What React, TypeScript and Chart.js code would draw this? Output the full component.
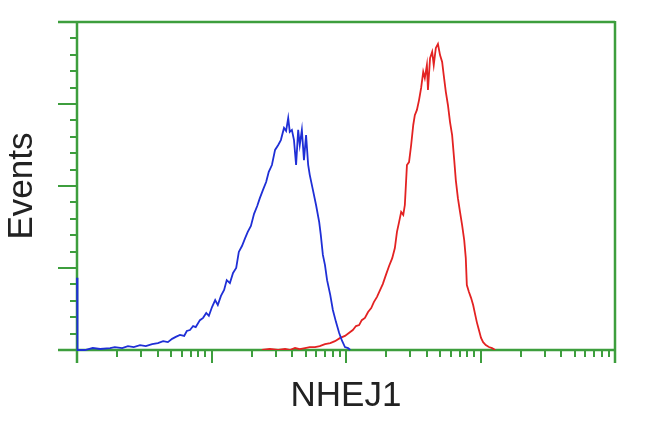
import React, { useEffect, useRef } from "react";
import { Chart, registerables } from "chart.js";

Chart.register(...registerables);

// Channel (log-amplified, 256 channels per decade) and event counts (% of max scale)
const blueChannels = [0, 1, 15, 30, 44, 63, 72, 86, 97, 108, 120, 131, 143, 154, 164, 173, 181, 188, 196, 204, 209, 215, 221, 226, 234, 240, 246, 251, 257, 263, 268, 274, 280, 285, 291, 297, 303, 308, 314, 320, 325, 331, 337, 343, 348, 354, 360, 365, 371, 377, 383, 388, 394, 398, 402, 405, 409, 413, 417, 421, 424, 428, 432, 436, 440, 443, 449, 455, 461, 464, 468, 472, 476, 482, 487, 493, 499, 504, 510, 516, 520];
const blueCounts = [22, 0, 0, 0.6, 0.3, 0.6, 0.9, 0.6, 1.2, 0.9, 1.5, 1.2, 1.8, 2.1, 2.7, 2.4, 3.4, 4.0, 4.6, 4.3, 5.8, 6.1, 7.3, 7.0, 9.1, 9.8, 11.3, 10.4, 13.1, 15.2, 13.7, 16.5, 18.3, 21.3, 20.4, 23.5, 25.0, 29.9, 31.7, 34.1, 36.0, 37.8, 41.5, 43.9, 46.3, 48.8, 51.2, 54.3, 56.4, 61.0, 62.5, 64.0, 67.7, 66.8, 70.7, 66.5, 67.1, 64.0, 56.4, 67.1, 62.5, 67.1, 57.9, 65.5, 56.4, 53.4, 48.8, 44.2, 39.0, 35.1, 29.0, 25.9, 21.3, 16.8, 12.2, 8.5, 5.2, 3.0, 0.9, 0.6, 0];

const redChannels = [352, 367, 383, 396, 405, 415, 424, 434, 443, 453, 462, 472, 482, 491, 501, 510, 520, 525, 531, 537, 542, 548, 554, 560, 565, 571, 577, 582, 588, 594, 600, 605, 609, 613, 617, 621, 624, 628, 632, 636, 640, 643, 647, 651, 655, 659, 662, 666, 668, 672, 676, 679, 683, 687, 691, 695, 698, 702, 706, 710, 714, 718, 721, 725, 729, 733, 737, 740, 742, 746, 750, 754, 758, 761, 765, 769, 773, 778, 784, 790, 796];
const redCounts = [0, 0.3, 0, 0.3, 0, 0.6, 0.3, 0.6, 0.9, 0.9, 1.2, 1.8, 2.1, 2.7, 3.7, 4.3, 5.5, 6.1, 7.3, 7.6, 9.1, 9.8, 11.6, 12.8, 14.6, 16.2, 18.3, 20.1, 22.9, 25.6, 28.0, 31.1, 36.0, 39.0, 42.1, 41.2, 44.2, 56.4, 57.3, 62.5, 68.6, 71.6, 73.2, 76.2, 79.9, 84.8, 82.9, 86.9, 79.3, 89.0, 90.9, 86.9, 92.1, 93.3, 89.9, 87.8, 83.8, 78.7, 74.7, 69.5, 65.5, 57.9, 51.8, 46.3, 42.1, 38.1, 33.5, 28.0, 19.8, 17.7, 15.9, 13.7, 10.7, 8.5, 6.1, 3.7, 2.4, 1.5, 0.9, 0.6, 0];

const xDecades = [0, 1, 2, 3, 4];
const channelsPerDecade = 256;
const xMinorMultipliers = [2, 3, 4, 5, 6, 7, 8, 9];
const yMajorTicks = [0, 25, 50, 75, 100];
const yMinorStep = 5;

const xTitle = "NHEJ1";
const yTitle = "Events";

const GREEN = "#3d9e3d";

const framePlugin = {
  id: "facsFrame",
  beforeDatasetsDraw(chart: any) {
    const { ctx, chartArea, scales } = chart;
    const xs = scales.x;
    const ys = scales.y;
    const { left, right, top, bottom } = chartArea;
    ctx.save();
    ctx.strokeStyle = GREEN;
    ctx.lineCap = "butt";
    ctx.lineWidth = 2.5;
    ctx.beginPath();
    ctx.moveTo(left - 19, top);
    ctx.lineTo(right, top);
    ctx.moveTo(right, top - 1);
    ctx.lineTo(right, bottom + 13);
    ctx.moveTo(left, top);
    ctx.lineTo(left, bottom + 13);
    ctx.moveTo(left - 19, bottom);
    ctx.lineTo(right, bottom);
    ctx.stroke();
    ctx.lineWidth = 2;
    ctx.beginPath();
    for (let v = 0; v <= 100; v += yMinorStep) {
      const py = Math.round(ys.getPixelForValue(v));
      const major = yMajorTicks.includes(v);
      ctx.moveTo(left - (major ? 19 : 7), py);
      ctx.lineTo(left, py);
    }
    for (let i = 0; i < xDecades.length; i++) {
      const d = xDecades[i];
      const px = Math.round(xs.getPixelForValue(d * channelsPerDecade));
      ctx.moveTo(px, bottom);
      ctx.lineTo(px, bottom + 13);
      if (i < xDecades.length - 1) {
        for (const m of xMinorMultipliers) {
          const mx = Math.round(xs.getPixelForValue((d + Math.log10(m)) * channelsPerDecade));
          ctx.moveTo(mx, bottom);
          ctx.lineTo(mx, bottom + 7);
        }
      }
    }
    ctx.stroke();
    ctx.restore();
  },
};

export default function App() {
  const ref = useRef<HTMLCanvasElement | null>(null);
  useEffect(() => {
    if (!ref.current) return;
    const chart = new Chart(ref.current, {
      type: "line",
      data: {
        datasets: [
          {
            label: "control",
            data: blueChannels.map((c, i) => ({ x: c, y: blueCounts[i] })),
            borderColor: "#1f2fd6",
            borderWidth: 1.8,
            pointRadius: 0,
            tension: 0,
            clip: 6,
          },
          {
            label: "NHEJ1",
            data: redChannels.map((c, i) => ({ x: c, y: redCounts[i] })),
            borderColor: "#e32222",
            borderWidth: 1.8,
            pointRadius: 0,
            tension: 0,
          },
        ],
      },
      options: {
        animation: false,
        responsive: true,
        maintainAspectRatio: false,
        layout: { padding: { left: 0, right: 35, top: 22, bottom: 0 } },
        plugins: { legend: { display: false }, tooltip: { enabled: false } },
        scales: {
          x: {
            type: "linear",
            min: 0,
            max: xDecades[xDecades.length - 1] * channelsPerDecade,
            grid: { display: false, drawTicks: false },
            border: { display: false },
            ticks: { display: false },
            title: {
              display: true,
              text: xTitle,
              color: "#222",
              font: { family: "'Liberation Sans', Arial, sans-serif", size: 35 },
              padding: { top: 25, bottom: 15 },
            },
          },
          y: {
            type: "linear",
            min: 0,
            max: 100,
            grid: { display: false, drawTicks: false },
            border: { display: false },
            ticks: { display: false },
            title: {
              display: true,
              text: yTitle,
              color: "#222",
              font: { family: "'Liberation Sans', Arial, sans-serif", size: 35 },
              padding: { top: 1, bottom: 34 },
            },
          },
        },
      },
      plugins: [framePlugin],
    });
    return () => chart.destroy();
  }, []);
  return (
    <div style={{ position: "fixed", left: 0, top: 0, width: 650, height: 432, background: "#fff" }}>
      <canvas ref={ref} />
    </div>
  );
}
